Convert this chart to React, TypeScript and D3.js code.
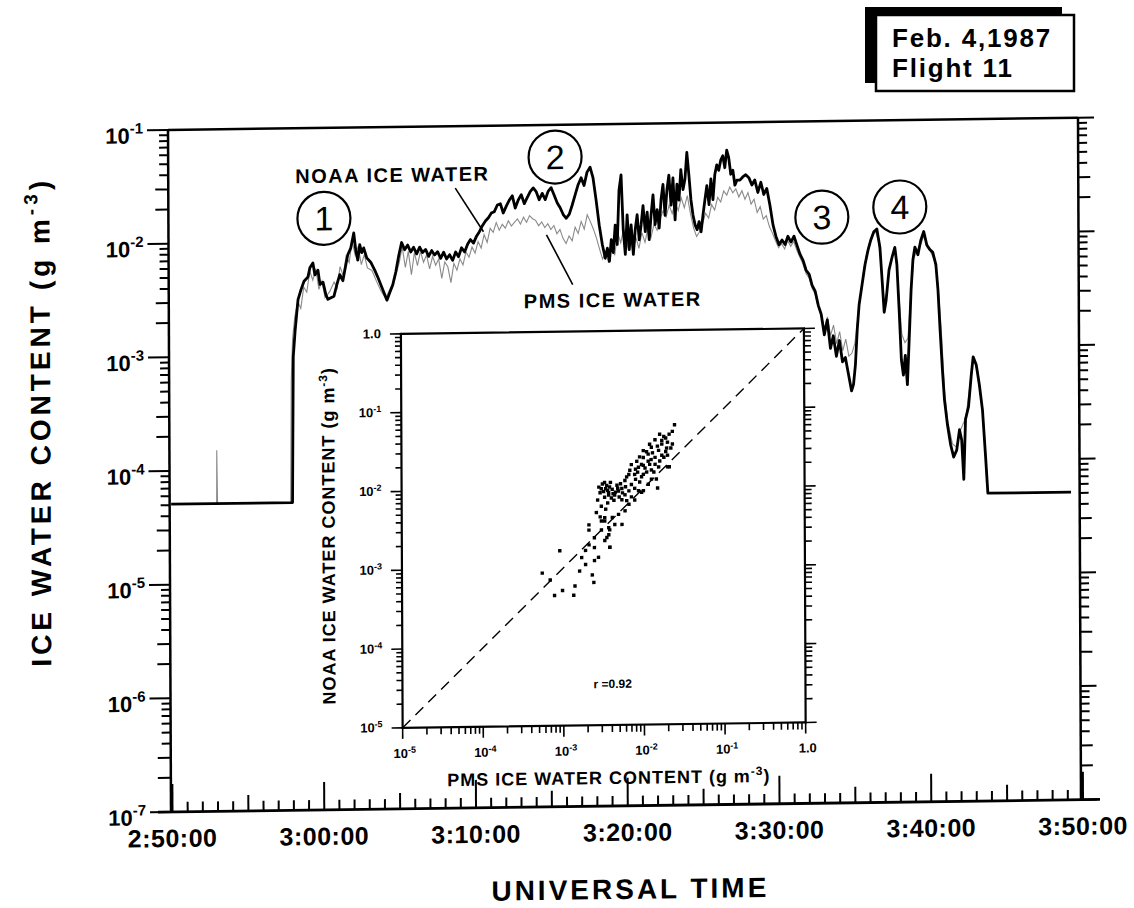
import * as d3 from "d3";

const font = "'Liberation Sans', Arial, Helvetica, sans-serif";

// minutes after 2:50:00 UT, NOAA ice water content (g m-3)
const noaaIce: [number, number][] = [
  [0, 5.1e-5], [8.0, 5.1e-5], [8.09, 9.8e-4], [8.22, 1.66e-3], [8.42, 3.1e-3], [8.62, 3.8e-3],
  [8.82, 4.5e-3], [9.08, 4.9e-3], [9.21, 5.9e-3], [9.41, 6.5e-3], [9.54, 5.1e-3], [9.74, 5.6e-3],
  [9.87, 4.2e-3], [10.07, 4.4e-3], [10.26, 3.4e-3], [10.39, 3.1e-3], [10.59, 3.2e-3], [10.79, 3.3e-3],
  [10.99, 4.2e-3], [11.18, 5.1e-3], [11.38, 4.5e-3], [11.58, 6.2e-3], [11.71, 7.6e-3], [11.91, 8.7e-3],
  [12.11, 1.18e-2], [12.24, 8.3e-3], [12.37, 6.8e-3], [12.5, 9.3e-3], [12.63, 7.9e-3], [12.76, 8.7e-3],
  [12.96, 7.1e-3], [13.22, 6.5e-3], [13.49, 5.5e-3], [13.68, 4.8e-3], [13.88, 4.1e-3], [14.08, 3.5e-3],
  [14.28, 3.0e-3], [14.47, 3.5e-3], [14.67, 4.1e-3], [14.87, 5.3e-3], [15.07, 7.4e-3], [15.26, 9.6e-3],
  [15.46, 8.3e-3], [15.66, 9.1e-3], [15.86, 7.9e-3], [16.05, 8.7e-3], [16.25, 7.6e-3], [16.45, 8.7e-3],
  [16.64, 7.8e-3], [16.84, 8.3e-3], [17.04, 7.2e-3], [17.24, 8.1e-3], [17.43, 7.4e-3], [17.63, 7.9e-3],
  [17.83, 6.9e-3], [18.03, 7.8e-3], [18.22, 6.8e-3], [18.42, 7.4e-3], [18.62, 6.6e-3], [18.82, 7.8e-3],
  [19.01, 7.1e-3], [19.21, 8.5e-3], [19.41, 7.8e-3], [19.61, 9.1e-3], [19.8, 1.0e-2], [20.0, 9.3e-3],
  [20.2, 1.07e-2], [20.39, 1.17e-2], [20.59, 1.32e-2], [20.79, 1.45e-2], [20.99, 1.55e-2], [21.18, 1.7e-2],
  [21.38, 1.75e-2], [21.58, 2.0e-2], [21.78, 2.05e-2], [21.97, 1.7e-2], [22.17, 1.95e-2], [22.37, 2.2e-2],
  [22.57, 2.4e-2], [22.76, 1.87e-2], [22.96, 2.2e-2], [23.16, 2.45e-2], [23.36, 2.04e-2], [23.55, 2.3e-2],
  [23.75, 2.6e-2], [23.95, 2.8e-2], [24.14, 2.6e-2], [24.34, 2.2e-2], [24.54, 2.5e-2], [24.74, 2.2e-2],
  [24.93, 2.6e-2], [25.13, 2.8e-2], [25.33, 2.4e-2], [25.53, 2.05e-2], [25.72, 1.86e-2], [25.92, 1.62e-2],
  [26.12, 1.5e-2], [26.32, 1.63e-2], [26.51, 1.95e-2], [26.71, 2.4e-2], [26.91, 2.95e-2], [27.11, 3.4e-2],
  [27.3, 2.9e-2], [27.5, 3.8e-2], [27.7, 4.2e-2], [27.89, 3.4e-2], [28.09, 2.15e-2], [28.29, 1.29e-2],
  [28.49, 8.7e-3], [28.68, 6.6e-3], [28.82, 8.1e-3], [28.95, 6.2e-3], [29.08, 9.6e-3], [29.21, 7.4e-3],
  [29.34, 1.29e-2], [29.47, 8.7e-3], [29.6, 2.6e-2], [29.74, 3.55e-2], [29.87, 1.17e-2], [30.0, 7.1e-3],
  [30.13, 1.58e-2], [30.26, 7.8e-3], [30.39, 1.29e-2], [30.53, 7.1e-3], [30.66, 1.17e-2], [30.79, 1.58e-2],
  [30.92, 9.5e-3], [31.05, 1.29e-2], [31.18, 1.9e-2], [31.32, 1.12e-2], [31.45, 1.66e-2], [31.58, 9.5e-3],
  [31.71, 1.58e-2], [31.84, 2.35e-2], [31.97, 1.29e-2], [32.11, 1.74e-2], [32.24, 1.2e-2], [32.37, 2.14e-2],
  [32.5, 2.9e-2], [32.63, 1.55e-2], [32.76, 2.6e-2], [32.89, 3.5e-2], [33.03, 1.9e-2], [33.16, 3.3e-2],
  [33.29, 1.41e-2], [33.42, 2.9e-2], [33.55, 2.1e-2], [33.68, 3.9e-2], [33.82, 2.6e-2], [33.95, 3.2e-2],
  [34.08, 5.5e-2], [34.21, 3.5e-2], [34.34, 2.1e-2], [34.47, 1.55e-2], [34.61, 1.26e-2], [34.74, 1.15e-2],
  [34.87, 1.35e-2], [35.0, 1.1e-2], [35.13, 1.55e-2], [35.26, 2.1e-2], [35.39, 2.8e-2], [35.53, 1.9e-2],
  [35.66, 3.2e-2], [35.79, 2.1e-2], [35.92, 3.5e-2], [36.05, 4.25e-2], [36.18, 3.8e-2], [36.32, 4.7e-2],
  [36.45, 5.1e-2], [36.58, 4.0e-2], [36.71, 5.7e-2], [36.84, 4.9e-2], [36.97, 3.5e-2], [37.11, 3.8e-2],
  [37.24, 2.8e-2], [37.37, 3.1e-2], [37.57, 3.1e-2], [37.76, 3.3e-2], [37.96, 3.45e-2], [38.16, 3.25e-2],
  [38.36, 2.8e-2], [38.55, 3.1e-2], [38.75, 2.4e-2], [38.95, 2.95e-2], [39.14, 2.3e-2], [39.34, 2.6e-2],
  [39.54, 1.86e-2], [39.74, 1.24e-2], [39.93, 9.8e-3], [40.13, 8.3e-3], [40.33, 9.1e-3], [40.53, 8.3e-3],
  [40.72, 9.8e-3], [40.92, 8.7e-3], [41.12, 9.8e-3], [41.32, 8.1e-3], [41.51, 6.8e-3], [41.71, 6.0e-3],
  [41.91, 4.9e-3], [42.11, 4.5e-3], [42.3, 3.6e-3], [42.5, 3.2e-3], [42.7, 2.4e-3], [42.89, 2.0e-3],
  [43.09, 1.32e-3], [43.29, 1.78e-3], [43.49, 1.0e-3], [43.68, 1.29e-3], [43.88, 8.5e-4], [44.08, 1.17e-3],
  [44.28, 7.6e-4], [44.47, 8.3e-4], [44.67, 5.9e-4], [44.87, 4.2e-4], [45.0, 4.8e-4], [45.13, 7.1e-4],
  [45.26, 1.45e-3], [45.39, 2.4e-3], [45.59, 3.6e-3], [45.79, 5.4e-3], [45.99, 7.2e-3], [46.18, 8.9e-3],
  [46.38, 1.05e-2], [46.58, 1.11e-2], [46.78, 7.6e-3], [46.91, 4.0e-3], [47.04, 2.05e-3], [47.17, 2.6e-3],
  [47.37, 4.8e-3], [47.57, 6.2e-3], [47.76, 7.6e-3], [47.89, 5.4e-3], [48.03, 2.1e-3], [48.16, 7.8e-4],
  [48.29, 5.7e-4], [48.42, 8.5e-4], [48.55, 4.7e-4], [48.68, 1.17e-3], [48.82, 3.2e-3], [48.95, 5.9e-3],
  [49.08, 7.6e-3], [49.28, 6.5e-3], [49.47, 8.7e-3], [49.67, 1.04e-2], [49.87, 7.9e-3], [50.07, 7.2e-3],
  [50.26, 6.8e-3], [50.46, 5.3e-3], [50.59, 3.2e-3], [50.72, 1.41e-3], [50.86, 6.3e-4], [50.99, 3.4e-4],
  [51.18, 2.05e-4], [51.38, 1.38e-4], [51.58, 1.07e-4], [51.78, 1.23e-4], [51.97, 1.86e-4], [52.11, 1.51e-4],
  [52.24, 6.8e-5], [52.37, 2.3e-4], [52.57, 2.95e-4], [52.76, 5.6e-4], [52.89, 8.1e-4], [53.09, 6.9e-4],
  [53.29, 4.6e-4], [53.49, 2.75e-4], [53.68, 1.07e-4], [53.82, 5.1e-5], [59.3, 5.1e-5],
];

// PMS probe ice water content (g m-3), same time base
const pmsIce: [number, number][] = [
  [0, 5.1e-5], [3.0, 5.1e-5], [3.02, 1.5e-4], [3.06, 5.1e-5], [7.88, 5.1e-5], [7.95, 6e-4], [8.05, 1.4e-3],
  [8.2, 2.2e-3], [8.4, 3.0e-3], [8.6, 2.6e-3], [8.8, 4.0e-3], [9.0, 3.6e-3], [9.2, 5.5e-3], [9.4, 4.6e-3],
  [9.6, 5.8e-3], [9.8, 3.8e-3], [10.0, 4.5e-3], [10.2, 3.2e-3], [10.5, 3.6e-3], [10.8, 4.4e-3], [11.0, 3.9e-3],
  [11.2, 6.0e-3], [11.4, 5.0e-3], [11.6, 7.4e-3], [11.8, 6.5e-3], [12.0, 1.0e-2], [12.2, 7.5e-3], [12.4, 9.0e-3],
  [12.6, 6.2e-3], [12.8, 7.6e-3], [13.0, 5.8e-3], [13.3, 5.5e-3], [13.6, 4.4e-3], [13.9, 3.6e-3], [14.2, 3.1e-3],
  [14.5, 3.8e-3], [14.8, 4.6e-3], [15.1, 6.4e-3], [15.3, 8.8e-3], [15.5, 5.8e-3], [15.7, 8.0e-3], [15.9, 5.0e-3],
  [16.1, 7.8e-3], [16.3, 6.0e-3], [16.5, 8.0e-3], [16.7, 6.4e-3], [16.9, 7.4e-3], [17.1, 5.6e-3], [17.3, 7.2e-3],
  [17.5, 6.0e-3], [17.7, 6.8e-3], [17.9, 4.6e-3], [18.1, 6.4e-3], [18.3, 5.8e-3], [18.5, 4.2e-3], [18.7, 6.2e-3],
  [18.9, 5.4e-3], [19.1, 6.8e-3], [19.3, 6.0e-3], [19.5, 7.8e-3], [19.7, 7.0e-3], [19.9, 8.6e-3], [20.1, 7.6e-3],
  [20.3, 9.6e-3], [20.5, 8.4e-3], [20.7, 1.1e-2], [20.9, 9.4e-3], [21.1, 1.25e-2], [21.3, 1.15e-2], [21.5, 1.4e-2],
  [21.7, 1.2e-2], [21.9, 1.35e-2], [22.1, 1.25e-2], [22.3, 1.45e-2], [22.5, 1.3e-2], [22.7, 1.4e-2], [22.9, 1.5e-2],
  [23.1, 1.35e-2], [23.3, 1.55e-2], [23.5, 1.4e-2], [23.7, 1.6e-2], [23.9, 1.5e-2], [24.1, 1.45e-2], [24.3, 1.3e-2],
  [24.5, 1.4e-2], [24.7, 1.25e-2], [24.9, 1.35e-2], [25.1, 1.2e-2], [25.3, 1.3e-2], [25.5, 1.1e-2], [25.7, 1.2e-2],
  [25.9, 1.0e-2], [26.1, 9.0e-3], [26.3, 1.05e-2], [26.5, 9.5e-3], [26.7, 1.25e-2], [26.9, 1.1e-2], [27.1, 1.4e-2],
  [27.3, 1.2e-2], [27.5, 1.6e-2], [27.7, 1.4e-2], [27.9, 1.2e-2], [28.1, 1.0e-2], [28.3, 8.0e-3], [28.5, 6.5e-3],
  [28.7, 7.5e-3], [28.9, 6.0e-3], [29.1, 8.5e-3], [29.3, 7.0e-3], [29.5, 1.1e-2], [29.7, 9.0e-3], [29.9, 1.2e-2],
  [30.1, 8.0e-3], [30.3, 1.05e-2], [30.5, 7.5e-3], [30.7, 1.0e-2], [30.9, 8.0e-3], [31.1, 1.1e-2], [31.3, 9.0e-3],
  [31.5, 1.2e-2], [31.7, 1.0e-2], [31.9, 1.3e-2], [32.1, 1.15e-2], [32.3, 1.45e-2], [32.5, 1.7e-2], [32.7, 1.5e-2],
  [32.9, 1.9e-2], [33.1, 1.6e-2], [33.3, 2.0e-2], [33.5, 1.7e-2], [33.7, 2.2e-2], [33.9, 1.8e-2], [34.1, 2.3e-2],
  [34.3, 1.6e-2], [34.5, 1.2e-2], [34.7, 1.0e-2], [34.9, 1.1e-2], [35.1, 1.3e-2], [35.3, 1.6e-2], [35.5, 1.45e-2],
  [35.7, 1.9e-2], [35.9, 1.7e-2], [36.1, 2.2e-2], [36.3, 2.0e-2], [36.5, 2.5e-2], [36.7, 2.3e-2], [36.9, 2.7e-2],
  [37.1, 2.4e-2], [37.3, 2.6e-2], [37.5, 2.2e-2], [37.7, 2.5e-2], [37.9, 2.1e-2], [38.1, 2.4e-2], [38.3, 1.9e-2],
  [38.5, 2.1e-2], [38.7, 1.6e-2], [38.9, 1.8e-2], [39.1, 1.4e-2], [39.3, 1.5e-2], [39.5, 1.2e-2], [39.7, 1.05e-2],
  [39.9, 9.0e-3], [40.1, 7.8e-3], [40.3, 8.5e-3], [40.5, 7.6e-3], [40.7, 9.0e-3], [40.9, 8.0e-3], [41.1, 8.8e-3],
  [41.3, 7.4e-3], [41.5, 6.4e-3], [41.7, 5.6e-3], [41.9, 4.6e-3], [42.1, 4.2e-3], [42.3, 3.4e-3], [42.5, 3.0e-3],
  [42.7, 2.3e-3], [42.9, 2.0e-3], [43.1, 1.5e-3], [43.3, 1.9e-3], [43.5, 1.3e-3], [43.7, 1.6e-3], [43.9, 1.1e-3],
  [44.1, 1.4e-3], [44.3, 9.5e-4], [44.5, 1.2e-3], [44.7, 8.5e-4], [44.9, 9.0e-4], [45.1, 1.1e-3], [45.3, 1.8e-3],
  [45.5, 3.0e-3], [45.7, 4.8e-3], [45.9, 6.8e-3], [46.1, 8.5e-3], [46.3, 1.0e-2], [46.5, 1.05e-2], [46.7, 8.5e-3],
  [46.9, 4.5e-3], [47.05, 2.5e-3], [47.2, 2.9e-3], [47.4, 5.0e-3], [47.6, 6.5e-3], [47.8, 7.2e-3], [48.0, 3.0e-3],
  [48.2, 1.3e-3], [48.4, 1.1e-3], [48.6, 1.2e-3], [48.8, 3.0e-3], [49.0, 6.0e-3], [49.2, 7.0e-3], [49.5, 8.2e-3],
  [49.7, 9.8e-3], [49.9, 7.6e-3], [50.1, 7.0e-3], [50.4, 5.6e-3], [50.6, 3.4e-3], [50.8, 1.4e-3], [51.0, 4.0e-4],
  [51.2, 2.2e-4], [51.5, 1.4e-4], [51.8, 1.3e-4], [52.0, 1.8e-4], [52.4, 2.4e-4], [52.7, 5.0e-4], [52.9, 7.8e-4],
  [53.2, 6.0e-4], [53.5, 2.8e-4], [53.7, 1.1e-4], [53.82, 5.1e-5], [59.3, 5.1e-5],
];

// inset scatter: [PMS, NOAA] ice water content (g m-3)
const scatterPoints: [number, number][] = [
  [2.45e-2, 6.3e-2], [2.1e-2, 4.8e-2], [1.8e-2, 4.5e-2], [2.0e-2, 3.8e-2], [2.3e-2, 3.6e-2], [1.7e-2, 3.6e-2],
  [1.4e-2, 4.1e-2], [1.26e-2, 3.3e-2], [1.55e-2, 3.0e-2], [1.15e-2, 2.7e-2], [1.4e-2, 2.45e-2], [1.0e-2, 2.45e-2],
  [9.5e-3, 2.0e-2], [1.2e-2, 2.0e-2], [1.26e-2, 1.7e-2], [8.7e-3, 1.85e-2], [7.1e-3, 2.0e-2], [7.8e-3, 1.5e-2],
  [1.0e-2, 1.5e-2], [1.55e-2, 1.85e-2], [2.0e-2, 1.85e-2], [1.45e-2, 1.3e-2], [2.0e-2, 2.6e-2], [6.6e-3, 1.5e-2],
  [5.9e-3, 1.26e-2], [7.1e-3, 1.12e-2], [5.4e-3, 1.0e-2], [6.6e-3, 9.3e-3], [4.9e-3, 9.3e-3], [7.8e-3, 1.0e-2],
  [8.7e-3, 9.3e-3], [5.9e-3, 8.3e-3], [4.4e-3, 8.3e-3], [7.1e-3, 7.8e-3], [5.4e-3, 7.2e-3], [9.5e-3, 8.9e-3],
  [3.7e-3, 8.9e-3], [7.8e-3, 7.1e-3], [6.6e-3, 6.3e-3], [1.0e-2, 9.3e-3], [1.15e-2, 1.12e-2], [5.9e-3, 5.2e-3],
  [4.9e-3, 4.7e-3], [4.1e-3, 4.3e-3], [4.4e-3, 3.5e-3], [3.7e-3, 3.2e-3], [3.3e-3, 3.9e-3], [5.4e-3, 3.5e-3],
  [3.0e-3, 3.0e-3], [3.7e-3, 2.6e-3], [3.3e-3, 2.2e-3], [3.8e-3, 1.8e-3], [1.4e-2, 2.0e-2], [1.8e-2, 2.45e-2],
  [1.6e-2, 4.8e-2], [1.95e-2, 3.2e-2], [2.2e-2, 3.2e-2], [9.5e-3, 1.4e-2], [1.26e-2, 1.3e-2], [1.0e-2, 1.95e-2],
  [1.15e-2, 2.2e-2], [1.0e-2, 3.0e-2], [2.1e-2, 1.85e-2], [1.5e-2, 1.0e-2],
  [3.0e-3, 1.0e-2], [3.5e-3, 1.1e-2], [4.1e-3, 9.8e-3], [4.7e-3, 1.1e-2], [3.3e-3, 7.8e-3], [4.3e-3, 7.1e-3],
  [2.9e-3, 8.9e-3], [5.0e-3, 7.8e-3], [3.6e-3, 6.6e-3], [3.8e-3, 1.05e-2], [4.5e-3, 9.0e-3], [3.2e-3, 9.2e-3],
  [3.1e-3, 1.15e-2], [3.4e-3, 1.0e-2], [3.9e-3, 1.2e-2], [4.2e-3, 8.6e-3], [2.8e-3, 1.05e-2], [3.6e-3, 9.5e-3],
  [4.8e-3, 1.0e-2], [5.2e-3, 1.15e-2], [3.3e-3, 1.2e-2], [4.0e-3, 7.6e-3], [2.7e-3, 7.2e-3], [3.0e-3, 6.0e-3],
  [2.6e-3, 5.0e-3], [3.4e-3, 5.5e-3], [2.9e-3, 4.4e-3], [6.2e-3, 1.4e-2], [6.8e-3, 1.7e-2], [8.0e-3, 1.75e-2],
  [8.3e-3, 2.2e-2], [9.0e-3, 2.5e-2], [1.1e-2, 2.9e-2], [1.2e-2, 3.6e-2], [1.3e-2, 2.8e-2], [1.5e-2, 3.4e-2],
  [1.7e-2, 4.0e-2], [1.9e-2, 4.3e-2], [1.6e-2, 2.2e-2], [1.35e-2, 1.6e-2], [1.1e-2, 1.6e-2], [9.0e-3, 1.2e-2],
  [8.0e-3, 1.3e-2], [6.0e-3, 1.05e-2], [5.5e-3, 8.8e-3], [6.2e-3, 7.0e-3], [2.3e-2, 5.2e-2], [1.9e-2, 2.9e-2],
  [1.7e-2, 2.6e-2], [1.25e-2, 2.3e-2], [1.05e-2, 1.8e-2], [8.5e-3, 1.6e-2],
  [9.1e-4, 1.66e-3], [9.8e-4, 5.2e-4], [1.35e-3, 4.5e-4], [1.4e-3, 5.9e-4], [1.6e-3, 9.1e-4], [1.7e-3, 1.35e-3],
  [1.9e-3, 1.66e-3], [1.9e-3, 1.1e-3], [2.1e-3, 3.5e-3], [2.1e-3, 3.0e-3], [2.1e-3, 1.95e-3], [2.3e-3, 8.1e-4],
  [2.4e-3, 6.5e-4], [2.45e-3, 2.4e-3], [2.45e-3, 1.8e-3], [2.45e-3, 1.23e-3], [2.75e-3, 1.35e-3], [3.0e-3, 3.9e-3],
  [3.3e-3, 4.3e-3], [3.5e-3, 2.4e-3], [3.7e-3, 8.3e-3], [3.8e-3, 3.0e-3], [3.8e-3, 1.8e-3], [5.5e-4, 8.7e-4],
  [6.9e-4, 7.1e-4], [7.8e-4, 4.5e-4],
];

const timeTickLabels = ["2:50:00", "3:00:00", "3:10:00", "3:20:00", "3:30:00", "3:40:00", "3:50:00"];
const mainDecades = [-1, -2, -3, -4, -5, -6, -7];
const insetDecades = [0, -1, -2, -3, -4, -5];
// numbered cloud passes: [label, minute, value]
const passes: [string, number, number][] = [
  ["1", 10.15, 1.6e-2],
  ["2", 25.4, 5.2e-2],
  ["3", 42.96, 1.43e-2],
  ["4", 48.1, 1.72e-2],
];

const x = d3.scaleLinear().domain([0, 60]).range([169.5, 1080]);
const y = d3.scaleLog().domain([1e-7, 1e-1]).range([812, 130]);
const ix = d3.scaleLog().domain([1e-5, 1]).range([400, 803]);
const iy = d3.scaleLog().domain([1e-5, 1]).range([731, 337]);

const logTicks = (lo: number, hi: number) => {
  const out: { v: number; k: number }[] = [];
  for (let e = lo; e < hi; e++) for (let k = 1; k < 10; k++) out.push({ v: k * Math.pow(10, e), k });
  out.push({ v: Math.pow(10, hi), k: 1 });
  return out;
};

const line = d3
  .line<[number, number]>()
  .x((d) => x(d[0]))
  .y((d) => y(d[1]));

export default function App() {
  const mainTicks = logTicks(-7, -1);
  const insetTicks = logTicks(-5, 0);
  const minutes = d3.range(0, 61);

  return (
    <svg
      width={1134}
      height={908}
      style={{ position: "absolute", left: 0, top: 0, background: "#fff" }}
      fontFamily={font}
    >
      <rect width={1134} height={908} fill="#fff" />

      {/* date box with shadow */}
      <rect x={865} y={7} width={197} height={76} fill="#000" />
      <rect x={876} y={15} width={198} height={76} fill="#fff" stroke="#000" strokeWidth={2.5} />
      <text x={892} y={47} fontSize={26} fontWeight="bold" letterSpacing={1.8}>
        Feb. 4,1987
      </text>
      <text x={892} y={77} fontSize={26} fontWeight="bold" letterSpacing={1.8}>
        Flight 11
      </text>

      {/* scanned page is slightly skewed */}
      <g transform="matrix(1,-0.0135,0.0044,1,-0.572,2.268)">
        {/* traces */}
        <path d={line(pmsIce) || ""} fill="none" stroke="#8a8a8a" strokeWidth={1.1} />
        <path
          d={line(noaaIce) || ""}
          fill="none"
          stroke="#000"
          strokeWidth={2.8}
          strokeLinejoin="round"
        />

        {/* frame */}
        <line x1={168} x2={168} y1={130} y2={812} stroke="#000" strokeWidth={2.5} />
        <line x1={168} x2={1078} y1={130} y2={130} stroke="#000" strokeWidth={2.5} />
        <line x1={1078} x2={1078} y1={130} y2={812} stroke="#000" strokeWidth={2.5} />
        <line x1={155} x2={1097} y1={812} y2={812} stroke="#000" strokeWidth={2.8} />

        {/* log ticks left (outward) and right (outward) */}
        {mainTicks.map((t, i) => {
          const yy = y(t.v);
          const ll = t.k === 1 ? 21 : t.k <= 3 ? 13 : 9;
          const lr = t.k === 1 ? 16 : t.k <= 3 ? 12 : 9;
          return (
            <g key={i} stroke="#000" strokeWidth={2}>
              <line x1={168 - ll} x2={168} y1={yy} y2={yy} />
              <line x1={1078} x2={1078 + lr} y1={yy} y2={yy} />
            </g>
          );
        })}

        {/* time ticks, pointing up */}
        {minutes.map((m) => {
          const len = m % 10 === 0 ? 28 : m % 5 === 0 ? 16 : 10;
          return (
            <line key={m} x1={x(m)} x2={x(m)} y1={812} y2={812 - len} stroke="#000" strokeWidth={2} />
          );
        })}

        {/* y tick labels */}
        {mainDecades.map((e) => (
          <text key={e} x={143} y={y(Math.pow(10, e)) + 13} textAnchor="end" fontSize={22} fontWeight="bold">
            10
            <tspan dy={-10} fontSize={15}>{`-${-e}`}</tspan>
          </text>
        ))}

        {/* x tick labels */}
        {timeTickLabels.map((s, i) => (
          <text key={s} x={x(i * 10)} y={847} textAnchor="middle" fontSize={25} fontWeight="bold" letterSpacing={0.5}>
            {s}
          </text>
        ))}

        {/* axis titles */}
        <text x={627} y={905} textAnchor="middle" fontSize={28} fontWeight="bold" letterSpacing={3}>
          UNIVERSAL TIME
        </text>
        <text
          transform="translate(49,420) rotate(-90)"
          textAnchor="middle"
          fontSize={28}
          fontWeight="bold"
          letterSpacing={4}
        >
          ICE WATER CONTENT (g m
          <tspan dy={-12} fontSize={19}>-3</tspan>
          <tspan dy={12}>)</tspan>
        </text>

        {/* annotations */}
        {passes.map(([n, t, v]) => (
          <g key={n}>
            <circle cx={x(t)} cy={y(v)} r={26.5} fill="none" stroke="#000" strokeWidth={2.2} />
            <text x={x(t)} y={y(v) + 12} textAnchor="middle" fontSize={34}>
              {n}
            </text>
          </g>
        ))}
        <text x={295} y={185} fontSize={20} fontWeight="bold" letterSpacing={1.5}>
          NOAA ICE WATER
        </text>
        <line x1={455} y1={192} x2={483} y2={236} stroke="#000" strokeWidth={1.6} />
        <text x={523} y={313} fontSize={20} fontWeight="bold" letterSpacing={1.5}>
          PMS ICE WATER
        </text>
        <line x1={546} y1={240} x2={572} y2={290} stroke="#000" strokeWidth={1.6} />

        {/* inset scatter plot */}
        <rect x={400} y={337} width={403} height={394} fill="#fff" stroke="#000" strokeWidth={2.2} />
        {insetTicks.map((t, i) => {
          const yy = iy(t.v);
          const xx = ix(t.v);
          const major = t.k === 1;
          return (
            <g key={i} stroke="#000" strokeWidth={1.6}>
              <line x1={400 - (major ? 11 : 6)} x2={400} y1={yy} y2={yy} />
              <line x1={803} x2={803 + (major ? 11 : 7)} y1={yy} y2={yy} />
              <line x1={xx} x2={xx} y1={731} y2={731 + (major ? 11 : 7)} />
            </g>
          );
        })}
        <line
          x1={ix(1e-5)}
          y1={iy(1e-5)}
          x2={ix(1)}
          y2={iy(1)}
          stroke="#000"
          strokeWidth={1.4}
          strokeDasharray="11 7"
        />
        {scatterPoints.map(([p, n], i) => (
          <rect key={i} x={ix(p) - 1.7} y={iy(n) - 1.7} width={3.4} height={3.4} fill="#000" />
        ))}
        {insetDecades.map((e) => (
          <g key={e} fontSize={13} fontWeight="bold">
            <text x={380} y={iy(Math.pow(10, e)) + 4} textAnchor="end">
              {e === 0 ? "1.0" : "10"}
              {e !== 0 && <tspan dy={-5} fontSize={9}>{`-${-e}`}</tspan>}
            </text>
            <text x={ix(Math.pow(10, e)) + 2} y={761} textAnchor="middle">
              {e === 0 ? "1.0" : "10"}
              {e !== 0 && <tspan dy={-5} fontSize={9}>{`-${-e}`}</tspan>}
            </text>
          </g>
        ))}
        <text x={606} y={790} textAnchor="middle" fontSize={18} fontWeight="bold" letterSpacing={1}>
          PMS ICE WATER CONTENT (g m
          <tspan dy={-7} fontSize={12}>-3</tspan>
          <tspan dy={7}>)</tspan>
        </text>
        <text
          transform="translate(333,538) rotate(-90)"
          textAnchor="middle"
          fontSize={18}
          fontWeight="bold"
          letterSpacing={1}
        >
          NOAA ICE WATER CONTENT (g m
          <tspan dy={-7} fontSize={12}>-3</tspan>
          <tspan dy={7}>)</tspan>
        </text>
        <text x={591} y={694} fontSize={12} fontWeight="bold">
          r =0.92
        </text>
      </g>
    </svg>
  );
}
